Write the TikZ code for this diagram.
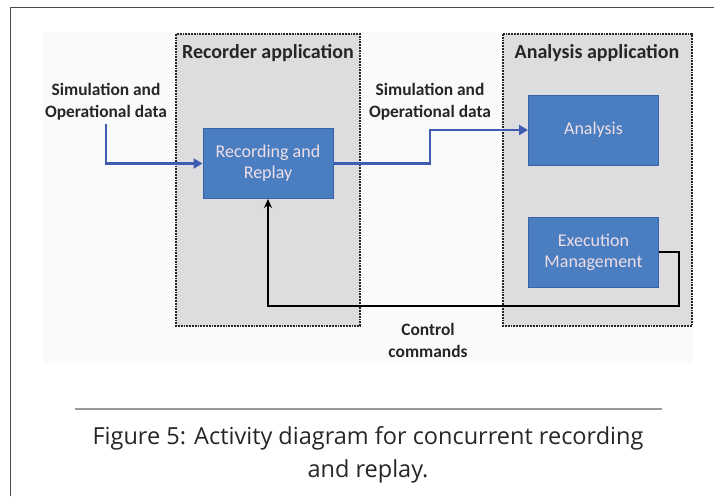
\documentclass[tikz,border=0pt]{standalone}
\usepackage{fontspec}
\setmainfont{Carlito}
\newfontfamily\capfont{Open Sans}
\usetikzlibrary{arrows.meta}
\definecolor{boxblue}{RGB}{74,126,193}
\definecolor{boxedge}{RGB}{56,100,165}
\definecolor{flowblue}{RGB}{62,92,178}
\definecolor{appgray}{RGB}{221,221,223}
\definecolor{paper}{RGB}{249,250,252}
\definecolor{boxtext}{RGB}{240,222,230}
\begin{document}
\begin{tikzpicture}[x=1pt,y=-1pt,
  app/.style={draw=black!85,densely dotted,line width=1.8pt,fill=appgray},
  apptitle/.style={font=\bfseries\fontsize{20}{24}\selectfont,text=black!85},
  blk/.style={draw=boxedge,line width=1pt,fill=boxblue,minimum width=130pt,minimum height=70pt,
    text=boxtext,align=center,font=\fontsize{18}{21}\selectfont},
  lbl/.style={align=center,font=\bfseries\fontsize{17.4}{22}\selectfont,text=black!85},
  flow/.style={draw=flowblue,line width=2.8pt,-{Triangle[length=9pt,width=10pt]}},
  ctrl/.style={draw=black,line width=2.4pt,-{Stealth[length=9pt,width=8pt]}}]
\useasboundingbox (0,0) rectangle (714,496);
% page frame and picture background
\draw[gray!60!black,line width=1.3pt] (10.7,496) -- (10.7,7.5) -- (714,7.5);
\fill[paper] (43,32) rectangle (693,363);

% the two applications
\draw[app] (176,34) rectangle (360,326);
\draw[app] (503,34) rectangle (692,326);
\node[apptitle] (rectitle) at (268,53) {Recorder application};
\node[apptitle] (anatitle) at (597,53) {Analysis application};

% blocks
\node[blk] (rec) at (268,163.5) {Recording and\\Replay};
\node[blk] (ana) at (593.5,130) {Analysis};
\node[blk] (exe) at (593.5,252) {Execution\\Management};

% labels
\node[lbl] (inlbl) at (106,102) {Simulation and\\Operational data};
\node[lbl] (midlbl) at (430,102) {Simulation and\\Operational data};
\node[lbl] (ctrllbl) at (428,340) {Control\\commands};

% connectors
\coordinate (ret) at (679,306);
\draw[flow] (inlbl.south) |- (rec.west);
\draw[flow] (rec.east) -- (rec.east -| midlbl) |- (ana.west);
\draw[ctrl] (exe.east) -| (ret) -| (rec.south);

% caption
\draw[gray!80,line width=2pt] (75,409) -- (662,409);
\node[font=\capfont\fontsize{23.5}{33}\selectfont,text=black!85,align=center] (caption) at (368,455)
  {Figure 5: Activity diagram for concurrent recording\\and replay.};
\end{tikzpicture}
\end{document}
